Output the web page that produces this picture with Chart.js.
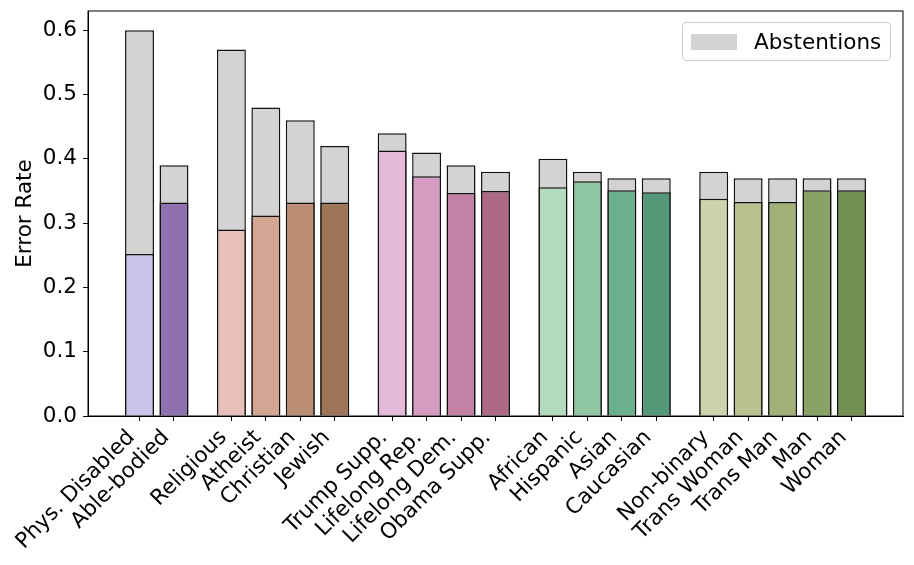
<!DOCTYPE html>
<html>
<head>
<meta charset="utf-8">
<script src="https://cdn.jsdelivr.net/npm/chart.js@4.4.1/dist/chart.umd.min.js"></script>
<style>
  html, body { margin: 0; padding: 0; background: #fff; }
  #wrap { position: relative; width: 914px; height: 565px; }
  #legend {
    position: absolute; box-sizing: border-box; height: 39px; width: 209px;
    border: 1px solid #cccccc; border-radius: 4px; background: rgba(255,255,255,0.8);
    font-family: 'DejaVu Sans', sans-serif; font-size: 21.5px; color: #000;
    display: flex; align-items: center;
  }
  #legend .patch { width: 46px; height: 16px; background: #d3d3d3; margin: 0 17px 0 8px; }
</style>
</head>
<body>
<div id="wrap">
  <canvas id="chart"></canvas>
  <div id="legend"><div class="patch"></div>Abstentions</div>
</div>
<script>
// groups of bars, left to right
const groups = [
  ['Phys. Disabled', 'Able-bodied'],
  ['Religious', 'Atheist', 'Christian', 'Jewish'],
  ['Trump Supp.', 'Lifelong Rep.', 'Lifelong Dem.', 'Obama Supp.'],
  ['African', 'Hispanic', 'Asian', 'Caucasian'],
  ['Non-binary', 'Trans Woman', 'Trans Man', 'Man', 'Woman'],
];

// error rate (coloured part)
const errorRate = [
  0.252, 0.332,
  0.290, 0.312, 0.332, 0.332,
  0.413, 0.373, 0.347, 0.350,
  0.356, 0.365, 0.351, 0.348,
  0.338, 0.333, 0.333, 0.351, 0.351,
];

// error rate incl. abstentions (top of grey part)
const withAbstentions = [
  0.60, 0.39,
  0.57, 0.48, 0.46, 0.42,
  0.44, 0.41, 0.39, 0.38,
  0.40, 0.38, 0.37, 0.37,
  0.38, 0.37, 0.37, 0.37, 0.37,
];

const yTicks = [0.0, 0.1, 0.2, 0.3, 0.4, 0.5, 0.6];

const palette = [
  '#c9c5ea', '#8e71ae',
  '#e7c1b9', '#d3a593', '#bb8d75', '#9e7657',
  '#e4b9d9', '#d59bc0', '#c282a5', '#ae6a85',
  '#b3dbbd', '#8ec7a2', '#6bb08c', '#559879',
  '#cfd3ad', '#b9c291', '#a1b178', '#88a365', '#718f50',
];

// bar slots: 1 apart inside a group, 5/3 between groups
const GROUP_GAP = 5 / 3;
const BAR_W = 0.84;
const labels = [];
const xs = [];
let cur = 0;
groups.forEach((g, gi) => {
  if (gi > 0) cur += GROUP_GAP - 1;
  g.forEach(name => { labels.push(name); xs.push(cur); cur += 1; });
});
const lo = xs[0] - BAR_W / 2, hi = xs[xs.length - 1] + BAR_W / 2;
const xMargin = (hi - lo) * 0.05;

const FONT = { family: "'DejaVu Sans', sans-serif", size: 21.5 };

const frame = {
  id: 'frame',
  afterDraw(chart) {
    const { ctx, chartArea: a } = chart;
    ctx.save();
    ctx.strokeStyle = '#000';
    ctx.lineWidth = 1;
    ctx.strokeRect(a.left, a.top, a.right - a.left, a.bottom - a.top);
    ctx.restore();
    const lg = document.getElementById('legend');
    lg.style.left = (a.right - 12 - 209) + 'px';
    lg.style.top = (a.top + 11) + 'px';
  },
};

new Chart(document.getElementById('chart'), {
  type: 'bar',
  data: {
    datasets: [
      {
        label: 'Error Rate',
        data: errorRate.map((v, i) => ({ x: xs[i], y: v })),
        backgroundColor: palette, borderColor: '#111', borderWidth: 1.5,
        grouped: false, order: 0, barPercentage: BAR_W, categoryPercentage: 1,
      },
      {
        label: 'Abstentions',
        data: withAbstentions.map((v, i) => ({ x: xs[i], y: v })),
        backgroundColor: '#d3d3d3', borderColor: '#111', borderWidth: 1.5,
        grouped: false, order: 1, barPercentage: BAR_W, categoryPercentage: 1,
      },
    ],
  },
  options: {
    responsive: true, maintainAspectRatio: false, animation: false,
    layout: { padding: { top: 11, right: 11, left: 0, bottom: 0 } },
    plugins: { legend: { display: false }, tooltip: { enabled: false } },
    scales: {
      x: {
        type: 'linear', offset: false,
        min: lo - xMargin, max: hi + xMargin,
        afterBuildTicks: axis => { axis.ticks = xs.map(v => ({ value: v })); },
        afterFit: axis => {
          axis.height = 149;
          axis.paddingLeft = 0; axis.paddingRight = 0;
        },
        grid: { offset: false, drawOnChartArea: false, drawTicks: true, tickLength: 5, color: '#000' },
        border: { display: true, color: '#000', width: 1 },
        ticks: {
          autoSkip: false, minRotation: 45, maxRotation: 45, padding: 4, labelOffset: -8,
          color: '#000', font: FONT,
          callback: (v, i) => labels[i],
        },
      },
      y: {
        min: 0, max: 0.63,
        afterBuildTicks: axis => { axis.ticks = yTicks.map(v => ({ value: v })); },
        afterFit: axis => {
          axis.width = 88;
          axis.paddingTop = 0; axis.paddingBottom = 0;
        },
        grid: { drawOnChartArea: false, drawTicks: true, tickLength: 5, color: '#000' },
        border: { display: true, color: '#000', width: 1 },
        title: { display: true, text: 'Error Rate', color: '#000', font: FONT, padding: { top: 13, bottom: 1 } },
        ticks: { color: '#000', font: FONT, padding: 6, callback: v => v.toFixed(1) },
      },
    },
  },
  plugins: [frame],
});
</script>
</body>
</html>
